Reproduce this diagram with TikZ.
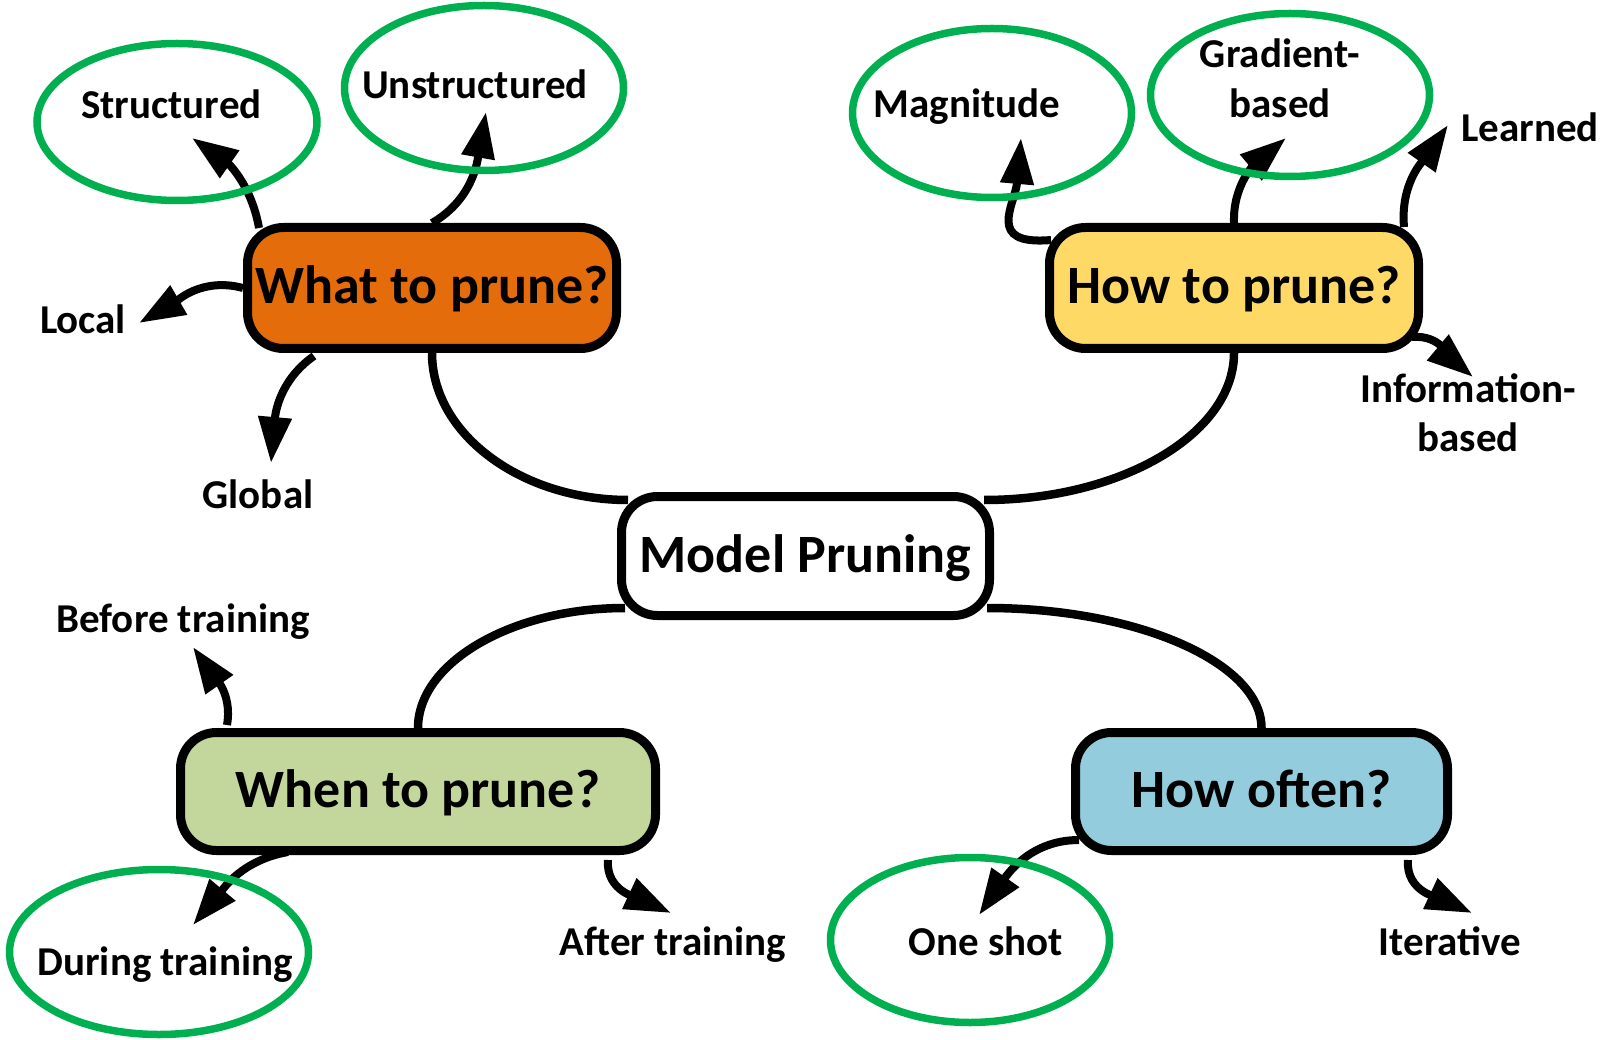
\documentclass[tikz,border=0pt]{standalone}
\usepackage{fontspec}
\setmainfont{Carlito}
\usetikzlibrary{arrows.meta,shapes.geometric,backgrounds}
\definecolor{whatc}{HTML}{E46C0A}
\definecolor{howc}{HTML}{FFD966}
\definecolor{whenc}{HTML}{C3D69B}
\definecolor{oftenc}{HTML}{93CDDD}
\definecolor{ovalgreen}{HTML}{00B050}
\begin{document}
\begin{tikzpicture}[x=1pt,y=1pt,
  box/.style={draw=black, line width=9pt, rounded corners=36pt, inner sep=0pt,
              text height=42pt, text depth=10pt,
              font=\fontsize{54}{64}\selectfont\bfseries},
  oval/.style={draw=ovalgreen, line width=7.5pt, ellipse, inner sep=0pt},
  lbl/.style={font=\fontsize{41}{49.5}\selectfont\bfseries, inner sep=0pt, align=center},
  link/.style={line width=8.5pt},
  arr/.style={line width=8pt, -{Triangle[length=46pt,width=32pt]}},
]
\useasboundingbox (0,0) rectangle (1603,-1040);

% main boxes
\node[box, fill=white, minimum width=368pt, minimum height=119pt] (c) at (805.5,-556) {Model Pruning};
\node[box, fill=whatc, minimum width=369pt, minimum height=121pt] (what) at (432,-288) {What to prune?};
\node[box, fill=howc, minimum width=369pt, minimum height=121pt] (how) at (1234,-288) {How to prune?};
\node[box, fill=whenc, minimum width=475pt, minimum height=118pt] (when) at (418,-791.5) {When to prune?};
\node[box, fill=oftenc, minimum width=372pt, minimum height=118pt] (often) at (1261.5,-791.5) {How often?};

% green ovals
\node[oval, minimum width=280pt, minimum height=157pt] (eStruct) at (177,-122) {};
\node[oval, minimum width=279pt, minimum height=165pt] (eUnstruct) at (484,-88) {};
\node[oval, minimum width=279pt, minimum height=169pt] (eMag) at (992,-113) {};
\node[oval, minimum width=279pt, minimum height=163pt] (eGrad) at (1290,-95) {};
\node[oval, minimum width=299pt, minimum height=165pt] (eDuring) at (159,-952) {};
\node[oval, minimum width=279pt, minimum height=165pt] (eOne) at (970,-940) {};

% labels
\node[lbl, anchor=base] (lStruct) at (171.5,-119) {Structured};
\node[lbl, anchor=base] (lUnstruct) at (475,-99) {Unstructured};
\node[lbl, anchor=base] (lLocal) at (83,-334) {Local};
\node[lbl, anchor=base] (lGlobal) at (258,-508) {Global};
\node[lbl, anchor=base] (lMag) at (967,-118) {Magnitude};
\node[lbl] (lGrad) at (1280,-78.5) {Gradient-\\based};
\node[lbl, anchor=base] (lLearn) at (1530,-142) {Learned};
\node[lbl] (lInfo) at (1468,-412.5) {Information-\\based};
\node[lbl, anchor=base] (lBefore) at (183,-632) {Before training};
\node[lbl, anchor=base] (lDuring) at (165,-975) {During training};
\node[lbl, anchor=base] (lAfter) at (673,-955) {After training};
\node[lbl, anchor=base] (lOne) at (986,-955) {One shot};
\node[lbl, anchor=base] (lIter) at (1450,-955) {Iterative};

% arrow tips
\coordinate (tStruct) at (192,-138);
\coordinate (tUnstruct) at (486,-112);
\coordinate (tLocal) at (139,-323);
\coordinate (tGlobal) at (271,-463);
\coordinate (tMag) at (1021,-138);
\coordinate (tGrad) at (1286,-138);
\coordinate (tLearn) at (1448,-125);
\coordinate (tInfo) at (1473,-377);
\coordinate (tBefore) at (193,-647);
\coordinate (tDuring) at (193,-925);
\coordinate (tAfter) at (671,-913);
\coordinate (tOne) at (979,-915);
\coordinate (tIter) at (1472,-913);

\begin{scope}[on background layer]
  % links to centre
  \draw[link] (what.south) .. controls +(0,-81) and +(-107,0) .. ([xshift=11pt,yshift=-8pt]c.north west);
  \draw[link] (how.south) .. controls +(0,-81) and +(137,0) .. ([xshift=-10pt,yshift=-8pt]c.north east);
  \draw[link] (when.north) .. controls +(0,65) and +(-114,0) .. ([xshift=8pt,yshift=12pt]c.south west);
  \draw[link] (often.north) .. controls +(0,65) and +(151,0) .. ([xshift=-7pt,yshift=12pt]c.south east);
  % branches
  \draw[arr] ([xshift=16pt,yshift=-5pt]what.north west) to[out=100,in=-35] (tStruct);
  \draw[arr] (what.north) to[out=30,in=-100] (tUnstruct);
  \draw[arr] (what.west) to[out=165,in=30] (tLocal);
  \draw[arr] ([xshift=71pt,yshift=-3pt]what.south west) to[out=215,in=85] (tGlobal);
  \draw[arr] ([xshift=6pt,yshift=-17pt]how.north west) to[out=185,in=-95,looseness=1.6] (tMag);
  \draw[arr] (how.north) to[out=92,in=-140] (tGrad);
  \draw[arr] ([xshift=-19pt,yshift=-4pt]how.north east) to[out=95,in=-125] (tLearn);
  \draw[arr] ([xshift=-11pt,yshift=16pt]how.south east) to[out=5,in=140] (tInfo);
  \draw[arr] ([xshift=51pt,yshift=3pt]when.north west) to[out=80,in=-55] (tBefore);
  \draw[arr] ([xshift=112pt,yshift=3pt]when.south west) to[out=190,in=50] (tDuring);
  \draw[arr] ([xshift=-52pt,yshift=-5pt]when.south east) to[out=-95,in=155] (tAfter);
  \draw[arr] ([xshift=8pt,yshift=15pt]often.south west) to[out=180,in=55] (tOne);
  \draw[arr] ([xshift=-44pt,yshift=-5pt]often.south east) to[out=-95,in=155] (tIter);
\end{scope}
\end{tikzpicture}
\end{document}
